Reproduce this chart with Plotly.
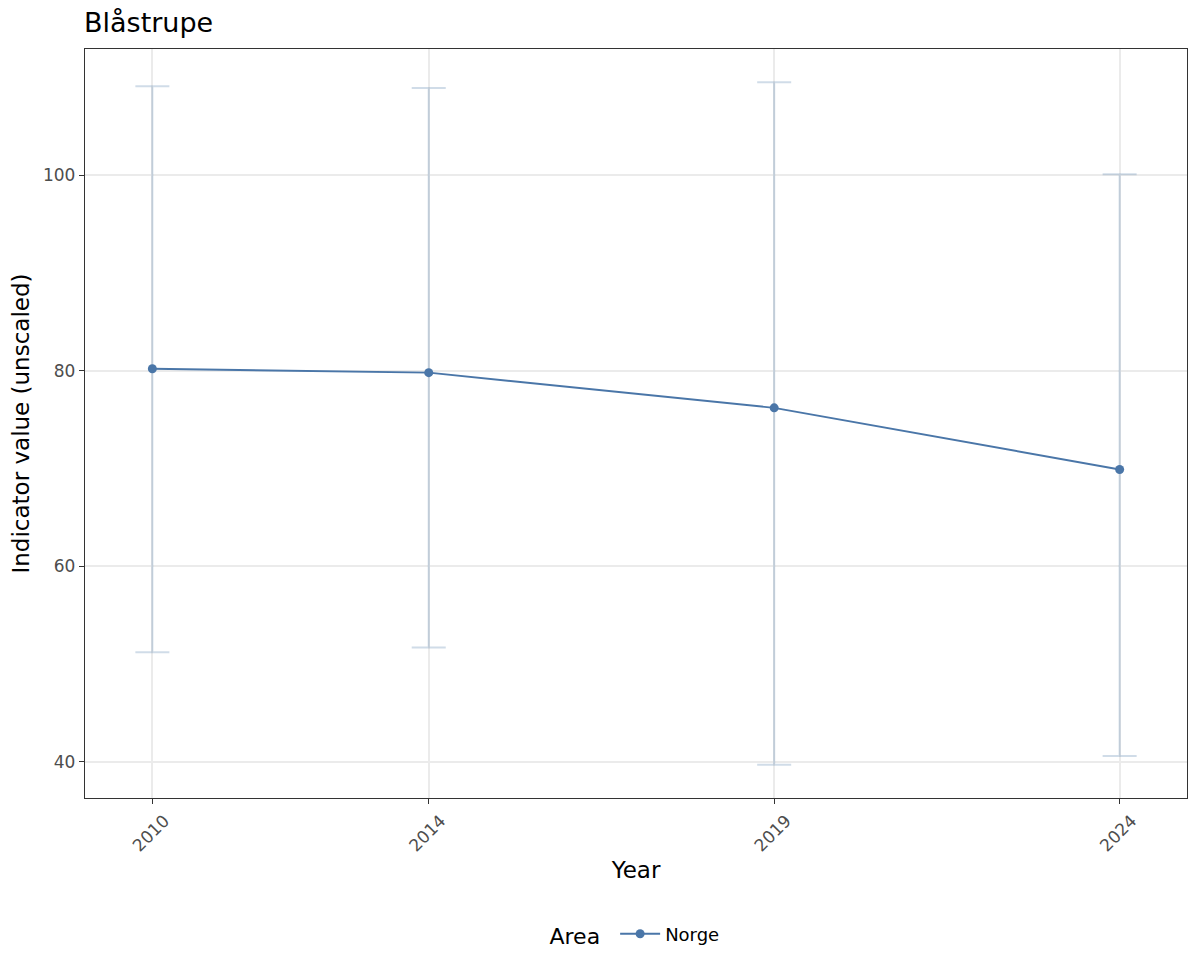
import plotly.graph_objects as go

years = [2010, 2014, 2019, 2024]
values = [80.2, 79.8, 76.2, 69.9]
upper = [109.1, 108.9, 109.5, 100.1]
lower = [51.2, 51.7, 39.7, 40.6]
area = "Norge"
title = "Blåstrupe"

line_color = "#4A76A8"
err_color = "rgba(74,118,168,0.26)"

fig = go.Figure()
fig.add_trace(go.Scatter(
    x=years, y=values, mode="lines", showlegend=False, hoverinfo="skip",
    line=dict(color="rgba(0,0,0,0)"),
    error_y=dict(type="data", symmetric=False,
                 array=[u - v for u, v in zip(upper, values)],
                 arrayminus=[v - l for v, l in zip(values, lower)],
                 color=err_color, thickness=2, width=17),
))
fig.add_trace(go.Scatter(
    x=years, y=values, mode="lines+markers", name=area,
    line=dict(color=line_color, width=1.9),
    marker=dict(color=line_color, size=9),
))

# page body has an 8px margin; figure is sized to fit the 1200x975 window
W, H = 1192, 967
font = "DejaVu Sans, Verdana, sans-serif"
fig.update_layout(
    width=W, height=H,
    paper_bgcolor="white", plot_bgcolor="white",
    margin=dict(l=76, r=12, t=41, b=177, pad=0),
    font=dict(family=font, color="black"),
    title=dict(text=title, x=76/W, xanchor="left", y=1-15/H, yanchor="middle",
               font=dict(size=27, color="black")),
    legend=dict(orientation="h", x=0.5, xanchor="center", y=-0.183, yanchor="middle",
                title=dict(text="Area ", font=dict(size=22)), font=dict(size=18),
                itemwidth=40),
    showlegend=True,
)
fig.update_xaxes(
    range=[2009.025, 2024.975], tickmode="array", tickvals=years,
    ticktext=[str(y) for y in years], tickangle=-45, ticklabelshift=12,
    showgrid=True, gridcolor="#EBEBEB", gridwidth=2,
    showline=True, linecolor="#333333", linewidth=1.3, mirror=True,
    ticks="outside", ticklen=5, tickwidth=1.3, tickcolor="#333333",
    tickfont=dict(size=17, color="#4D4D4D"),
    title=dict(text="Year", font=dict(size=23), standoff=7),
    zeroline=False,
)
fig.update_yaxes(
    range=[36.3, 112.9], tickmode="array", tickvals=[40, 60, 80, 100],
    showgrid=True, gridcolor="#EBEBEB", gridwidth=2,
    showline=True, linecolor="#333333", linewidth=1.3, mirror=True,
    ticks="outside", ticklen=5, tickwidth=1.3, tickcolor="#333333",
    tickfont=dict(size=17, color="#4D4D4D"),
    title=dict(text="Indicator value (unscaled)", font=dict(size=23), standoff=7),
    zeroline=False,
)
fig.write_html("out.html")
